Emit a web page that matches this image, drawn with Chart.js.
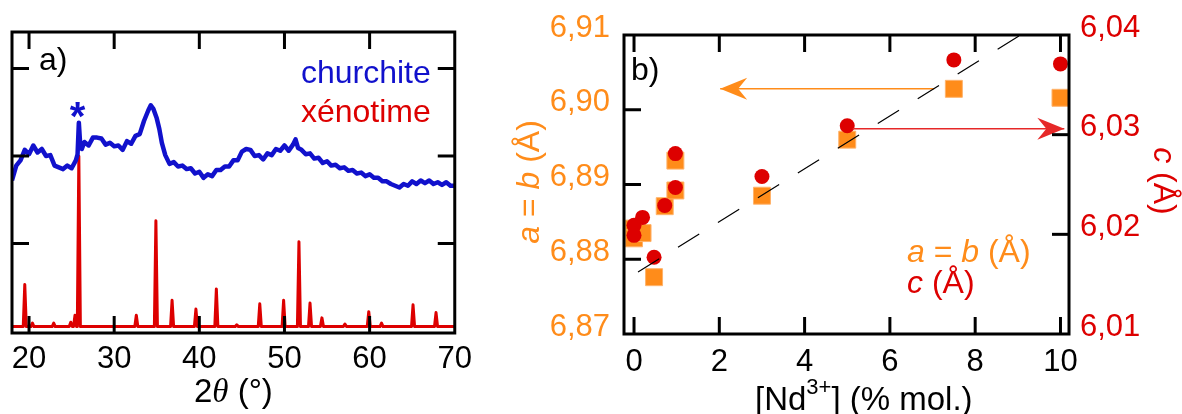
<!DOCTYPE html>
<html lang="fr">
<head>
<meta charset="UTF-8">
<title>DRX et paramètres de maille</title>
<script src="https://cdn.jsdelivr.net/npm/chart.js@4.4.1/dist/chart.umd.min.js"></script>
<style>
  body { margin: 0; background: #fff; }
  canvas { position: absolute; top: 0; }
  #chartA { left: 0; }
  #chartB { left: 480px; }
</style>
</head>
<body>
<canvas id="chartA" width="480" height="414"></canvas>
<canvas id="chartB" width="702" height="414"></canvas>
<script>
// ---- panel a) : diffractogrammes ----
const churchX = [18, 18.5, 19, 19.5, 20, 20.5, 21, 21.5, 22, 22.5, 23, 23.5, 24, 24.5, 25, 25.5,
  25.7, 25.85, 26, 26.2, 26.5, 27, 27.5, 28, 28.5, 29, 29.5, 30, 30.5, 31, 31.5, 32, 32.5, 33, 33.5,
  34, 34.3, 34.6, 35, 35.3, 35.6, 36, 36.5, 37, 37.5, 38, 38.5, 39, 39.5, 40, 40.5, 41, 41.5, 42,
  42.5, 43, 43.5, 44, 44.5, 45, 45.5, 46, 46.5, 47, 47.5, 48, 48.5, 49, 49.5, 50, 50.5, 51, 51.3,
  51.6, 52, 52.5, 53, 53.5, 54, 54.5, 55, 55.5, 56, 56.5, 57, 57.5, 58, 58.5, 59, 59.5, 60, 60.5,
  61, 61.5, 62, 62.5, 63, 63.5, 64, 64.5, 65, 65.5, 66, 66.5, 67, 67.5, 68, 68.5, 69, 69.5, 70];
const churchY = [1.72, 1.89, 1.95, 2.07, 2.02, 2.12, 2.04, 2.08, 2.00, 2.01, 1.89, 1.87, 1.85, 1.89, 1.86, 1.95,
  2.02, 2.38, 2.15, 2.08, 2.16, 2.12, 2.21, 2.21, 2.20, 2.13, 2.15, 2.11, 2.12, 2.07, 2.17, 2.14, 2.23, 2.25, 2.40,
  2.52, 2.58, 2.54, 2.43, 2.31, 2.15, 2.01, 1.91, 1.93, 1.88, 1.89, 1.85, 1.86, 1.80, 1.82, 1.75, 1.79, 1.77, 1.84,
  1.84, 1.88, 1.88, 1.95, 1.95, 2.05, 2.08, 2.07, 2.00, 2.01, 1.96, 2.03, 2.01, 2.08, 2.06, 2.12, 2.06, 2.13, 2.19,
  2.09, 2.07, 2.02, 2.03, 1.97, 1.98, 1.92, 1.94, 1.89, 1.90, 1.86, 1.87, 1.83, 1.84, 1.80, 1.81, 1.77, 1.79, 1.75,
  1.75, 1.71, 1.71, 1.68, 1.66, 1.64, 1.68, 1.66, 1.71, 1.68, 1.72, 1.69, 1.72, 1.68, 1.70, 1.67, 1.70, 1.66, 1.66];

const xenoBase = 0.05;
const xenoPos = [19.5, 20.4, 22.9, 24.9, 25.4, 25.85, 32.6, 34.9, 36.8, 39.6, 42.0, 44.4, 47.1, 49.9,
  51.7, 53.0, 54.4, 57.1, 59.9, 61.4, 65.1, 67.8];
const xenoInt = [0.53, 0.09, 0.09, 0.10, 0.18, 2.0, 0.18, 1.26, 0.35, 0.25, 0.48, 0.07, 0.31, 0.35,
  1.02, 0.32, 0.15, 0.08, 0.22, 0.09, 0.30, 0.21];

const xTicksA = [20, 30, 40, 50, 60, 70];
const yTicksA = [1, 2, 3];

// ---- panel b) : paramètres de maille ----
const ndX  = [0, 0, 0.2, 0.47, 0.72, 0.97, 0.97, 3, 5, 7.5, 10];
const aVal = [6.8841, 6.8828, 6.8835, 6.8776, 6.8871, 6.8932, 6.8892, 6.8885, 6.8960, 6.9028, 6.9016];
const cVal = [6.0209, 6.0199, 6.0217, 6.0177, 6.0229, 6.0281, 6.0247, 6.0258, 6.0309, 6.0375, 6.0371];

const fitX = [0.094, 9.32];
const fitY = [6.8783, 6.9109];

const arrowAX = [7.04, 2.02];
const arrowAY = 6.9028;
const arrowCX = [5.13, 10.09];
const arrowCY = 6.0306;

const xTicksB = [0, 2, 4, 6, 8, 10];
const aTicks = [6.87, 6.88, 6.89, 6.90, 6.91];
const cTicks = [6.01, 6.02, 6.03, 6.04];

const FONT = '"Liberation Sans", Arial, sans-serif';
const SERIF = '"Liberation Serif", "DejaVu Serif", serif';
const BLUE = '#1111CC';
const RED = '#DD0000';
const ORANGE = '#FF8C1A';

function drawRuns(ctx, runs, x, y, align) {
  let w = 0;
  runs.forEach(r => { ctx.font = r[1]; w += ctx.measureText(r[0]).width; });
  let cx = align === 'center' ? x - w / 2 : align === 'right' ? x - w : x;
  runs.forEach(r => {
    ctx.font = r[1];
    ctx.fillStyle = r[2];
    ctx.fillText(r[0], cx, y + (r[3] || 0));
    cx += ctx.measureText(r[0]).width;
  });
}

// cadre et graduations vers l'intérieur
const framePlugin = {
  id: 'frame',
  afterDraw(chart, args, opts) {
    const { ctx, chartArea: a } = chart;
    const L = 17;
    ctx.save();
    ctx.strokeStyle = '#000';
    ctx.lineWidth = 3;
    ctx.lineCap = 'butt';
    const seg = (x1, y1, x2, y2) => { ctx.beginPath(); ctx.moveTo(x1, y1); ctx.lineTo(x2, y2); ctx.stroke(); };
    const inside = (p, lo, hi) => p > lo + 4 && p < hi - 4;
    const xs = chart.scales.x;
    xs.ticks.forEach(t => {
      const p = xs.getPixelForValue(t.value);
      if (!inside(p, a.left, a.right)) return;
      seg(p, a.bottom, p, a.bottom - L);
      seg(p, a.top, p, a.top + L);
    });
    const yl = chart.scales[opts.left];
    yl.ticks.forEach(t => {
      const p = yl.getPixelForValue(t.value);
      if (!inside(p, a.top, a.bottom)) return;
      seg(a.left, p, a.left + L, p);
    });
    const yr = chart.scales[opts.right];
    yr.ticks.forEach(t => {
      const p = yr.getPixelForValue(t.value);
      if (!inside(p, a.top, a.bottom)) return;
      seg(a.right, p, a.right - L, p);
    });
    ctx.strokeRect(a.left, a.top, a.right - a.left, a.bottom - a.top);
    ctx.restore();
  }
};

const noGrid = { display: false, drawTicks: false };

// ---------- chart a ----------
const xenoData = [{ x: 18, y: xenoBase }];
xenoPos.forEach((p, i) => {
  xenoData.push({ x: p - 0.18, y: xenoBase }, { x: p, y: xenoInt[i] }, { x: p + 0.18, y: xenoBase });
});
xenoData.push({ x: 70, y: xenoBase });

const textA = {
  id: 'textA',
  afterDraw(chart) {
    const { ctx, chartArea: a } = chart;
    ctx.save();
    ctx.textBaseline = 'alphabetic';
    drawRuns(ctx, [['a)', '32px ' + FONT, '#000']], a.left + 27, a.top + 38, 'left');
    drawRuns(ctx, [['churchite', '32px ' + FONT, BLUE]], a.right - 24, a.top + 51, 'right');
    drawRuns(ctx, [['xénotime', '32px ' + FONT, RED]], a.right - 24, a.top + 90, 'right');
    // astérisque centré sur sa boîte réelle
    ctx.font = 'bold 40px ' + FONT;
    const m = ctx.measureText('*');
    ctx.fillStyle = BLUE;
    ctx.textAlign = 'center';
    ctx.fillText('*', a.left + 65.5, a.top + 78 + (m.actualBoundingBoxAscent - m.actualBoundingBoxDescent) / 2);
    ctx.textAlign = 'left';
    drawRuns(ctx, [['2', '33px ' + FONT, '#000'], ['θ', 'italic 33px ' + SERIF, '#000'], [' (°)', '33px ' + FONT, '#000']],
      (a.left + a.right) / 2, 402, 'center');
    ctx.restore();
  }
};

new Chart(document.getElementById('chartA'), {
  type: 'scatter',
  data: {
    datasets: [
      { label: 'churchite', data: churchX.map((x, i) => ({ x, y: churchY[i] })), showLine: true,
        borderColor: BLUE, borderWidth: 4.5, pointRadius: 0, borderJoinStyle: 'round' },
      { label: 'xénotime', data: xenoData, showLine: true,
        borderColor: RED, borderWidth: 3, pointRadius: 0, borderJoinStyle: 'round' }
    ]
  },
  options: {
    responsive: false,
    animation: false,
    events: [],
    layout: { padding: { top: 32, right: 16, left: 0, bottom: 0 } },
    plugins: { legend: { display: false }, tooltip: { enabled: false }, frame: { left: 'y', right: 'y' } },
    scales: {
      x: {
        type: 'linear', min: 18, max: 70,
        grid: noGrid, border: { display: false },
        ticks: { color: '#000', font: { family: FONT, size: 31 }, padding: 8, maxRotation: 0 },
        afterBuildTicks: s => { s.ticks = xTicksA.map(v => ({ value: v })); },
        afterFit: s => { s.height = 81; }
      },
      y: {
        min: -0.023, max: 3.417,
        grid: noGrid, border: { display: false },
        ticks: { display: false },
        afterBuildTicks: s => { s.ticks = yTicksA.map(v => ({ value: v })); },
        afterFit: s => { s.width = 12; }
      }
    }
  },
  plugins: [framePlugin, textA]
});

// ---------- chart b ----------
const arrowPlugin = {
  id: 'arrows',
  afterDatasetsDraw(chart) {
    const ctx = chart.ctx;
    chart.data.datasets.forEach((ds, i) => {
      if (!ds.arrow) return;
      const pts = chart.getDatasetMeta(i).data;
      const p0 = pts[pts.length - 2], p1 = pts[pts.length - 1];
      const dx = p1.x - p0.x, dy = p1.y - p0.y, len = Math.hypot(dx, dy);
      const ux = dx / len, uy = dy / len, nx = -uy, ny = ux;
      const H = 27, W = 11, N = 18;
      ctx.save();
      ctx.fillStyle = ds.borderColor;
      ctx.beginPath();
      ctx.moveTo(p1.x, p1.y);
      ctx.lineTo(p1.x - H * ux + W * nx, p1.y - H * uy + W * ny);
      ctx.lineTo(p1.x - N * ux, p1.y - N * uy);
      ctx.lineTo(p1.x - H * ux - W * nx, p1.y - H * uy - W * ny);
      ctx.closePath();
      ctx.fill();
      ctx.restore();
    });
  }
};

const textB = {
  id: 'textB',
  afterDraw(chart) {
    const { ctx, chartArea: a } = chart;
    const n = '32px ' + FONT, it = 'italic 32px ' + FONT;
    ctx.save();
    ctx.textBaseline = 'alphabetic';
    drawRuns(ctx, [['b)', n, '#000']], a.left + 7, a.top + 45, 'left');
    drawRuns(ctx, [['a', it, ORANGE], [' = ', n, ORANGE], ['b', it, ORANGE], [' (Å)', n, ORANGE]], a.left + 283, a.top + 227, 'left');
    drawRuns(ctx, [['c', it, RED], [' (Å)', n, RED]], a.left + 283, a.top + 258, 'left');
    drawRuns(ctx, [['[Nd', '33px ' + FONT, '#000'], ['3+', '22px ' + FONT, '#000', -16], ['] (% mol.)', '33px ' + FONT, '#000']],
      a.left + 131, 410, 'left');
    // titres des axes verticaux
    ctx.textBaseline = 'middle';
    ctx.save();
    ctx.translate(50, 182);
    ctx.rotate(-Math.PI / 2);
    drawRuns(ctx, [['a', it, ORANGE], [' = ', n, ORANGE], ['b', it, ORANGE], [' (Å)', n, ORANGE]], 0, 0, 'center');
    ctx.restore();
    ctx.save();
    ctx.translate(683, 181);
    ctx.rotate(Math.PI / 2);
    drawRuns(ctx, [['c', it, RED], [' (Å)', n, RED]], 0, 0, 'center');
    ctx.restore();
    ctx.restore();
  }
};

const comma = v => v.toFixed(2).replace('.', ',');

new Chart(document.getElementById('chartB'), {
  type: 'scatter',
  data: {
    datasets: [
      { label: 'ajustement', data: fitX.map((x, i) => ({ x, y: fitY[i] })), yAxisID: 'yA', showLine: true,
        borderColor: '#000', borderWidth: 1.2, borderDash: [25, 22], pointRadius: 0, clip: false, order: 0 },
      { label: 'flèche a', data: arrowAX.map(x => ({ x, y: arrowAY })), yAxisID: 'yA', showLine: true,
        borderColor: ORANGE, borderWidth: 1.6, pointRadius: 0, arrow: true, order: 0 },
      { label: 'flèche c', data: arrowCX.map(x => ({ x, y: arrowCY })), yAxisID: 'yC', showLine: true,
        borderColor: '#E62828', borderWidth: 1.6, pointRadius: 0, arrow: true, clip: false, order: 0 },
      { label: 'c (Å)', data: ndX.map((x, i) => ({ x, y: cVal[i] })), yAxisID: 'yC',
        pointStyle: 'circle', pointRadius: 7.5, backgroundColor: RED, borderColor: RED, borderWidth: 0,
        clip: false, order: 1 },
      { label: 'a = b (Å)', data: ndX.map((x, i) => ({ x, y: aVal[i] })), yAxisID: 'yA',
        pointStyle: 'rect', pointRadius: 12, backgroundColor: ORANGE, borderColor: '#FFB36B', borderWidth: 1,
        clip: false, order: 2 }
    ]
  },
  options: {
    responsive: false,
    animation: false,
    events: [],
    layout: { padding: { top: 35, right: 0, left: 0, bottom: 0 } },
    plugins: { legend: { display: false }, tooltip: { enabled: false }, frame: { left: 'yA', right: 'yC' } },
    scales: {
      x: {
        type: 'linear', min: -0.235, max: 10.2,
        grid: noGrid, border: { display: false },
        ticks: { color: '#000', font: { family: FONT, size: 31 }, padding: 10, maxRotation: 0 },
        afterBuildTicks: s => { s.ticks = xTicksB.map(v => ({ value: v })); },
        afterFit: s => { s.height = 80; }
      },
      yA: {
        position: 'left', min: 6.87, max: 6.91,
        grid: noGrid, border: { display: false },
        ticks: { color: ORANGE, font: { family: FONT, size: 31 }, padding: 14, labelOffset: -7, callback: comma },
        afterBuildTicks: s => { s.ticks = aTicks.map(v => ({ value: v })); },
        afterFit: s => { s.width = 144; }
      },
      yC: {
        position: 'right', min: 6.01, max: 6.04,
        grid: noGrid, border: { display: false },
        ticks: { color: RED, font: { family: FONT, size: 31 }, padding: 11, labelOffset: -7, callback: comma },
        afterBuildTicks: s => { s.ticks = cTicks.map(v => ({ value: v })); },
        afterFit: s => { s.width = 113; }
      }
    }
  },
  plugins: [framePlugin, arrowPlugin, textB]
});
</script>
</body>
</html>
